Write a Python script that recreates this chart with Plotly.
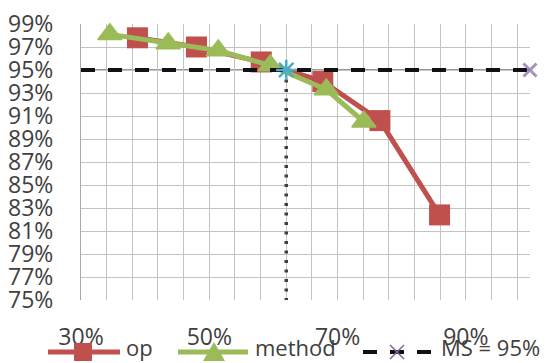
import plotly.graph_objects as go

# ---- data -------------------------------------------------------------
op_x = [0.388, 0.480, 0.581, 0.677, 0.766, 0.859]
op_y = [0.978, 0.970, 0.957, 0.940, 0.906, 0.824]

method_x = [0.345, 0.436, 0.514, 0.595, 0.6825, 0.741]
method_y = [0.981, 0.973, 0.967, 0.954, 0.933, 0.905]

ms_x = [0.30, 1.00]
ms_y = [0.95, 0.95]

cross_x = [0.62]
cross_y = [0.95]

drop_x = [0.62, 0.62]
drop_y = [0.95, 0.75]

x_tick_vals = [round(0.30 + 0.04 * i, 2) for i in range(18)]
x_tick_text = ["30%" if i == 0 else "50%" if i == 5 else "70%" if i == 10
               else "90%" if i == 15 else "" for i in range(18)]
y_tick_vals = [round(0.75 + 0.02 * i, 2) for i in range(13)]
y_tick_text = [f"{round(v * 100)}%" for v in y_tick_vals]

# ---- style ------------------------------------------------------------
RED = "#C0504D"
GREEN = "#9BBB59"
PURPLE = "#8064A2"
BLUE = "#4BACC6"
INK = "#404040"
GRID = "#C3C3C3"
FONT = "Open Sans"
FSIZE = 23
LEG_FSIZE = 22

W, H = 547, 363
ML, MR, MT, MB = 81, 17, 24, 63
PW, PH = W - ML - MR, H - MT - MB


def px(xp):
    return (xp - ML) / PW


def py(yp):
    return (H - MB - yp) / PH


fig = go.Figure()

fig.add_trace(go.Scatter(
    x=op_x, y=op_y, mode="lines+markers", name="op",
    line=dict(color=RED, width=5),
    marker=dict(symbol="square", size=21, color=RED),
    cliponaxis=False, showlegend=False))

fig.add_trace(go.Scatter(
    x=method_x, y=method_y, mode="lines+markers", name="method",
    line=dict(color=GREEN, width=5),
    marker=dict(symbol="triangle-up", size=21, color=GREEN,
                line=dict(color=GREEN, width=1.5)),
    cliponaxis=False, showlegend=False))

fig.add_trace(go.Scatter(
    x=ms_x, y=ms_y, mode="lines+markers", name="MS = 95%",
    line=dict(color="#111111", width=4, dash="14px,13px"),
    marker=dict(symbol="x-thin-open", size=[0, 13], color=PURPLE,
                line=dict(color=PURPLE, width=3)),
    cliponaxis=False, showlegend=False))

fig.add_trace(go.Scatter(
    x=drop_x, y=drop_y, mode="lines",
    line=dict(color=INK, width=3.5, dash="3px,6.5px"),
    cliponaxis=False, showlegend=False))

fig.add_trace(go.Scatter(
    x=cross_x, y=cross_y, mode="markers",
    marker=dict(symbol="asterisk-open", size=17, color=BLUE,
                line=dict(color=BLUE, width=2.5)),
    cliponaxis=False, showlegend=False))

shapes = []
# horizontal axis line crossing at 95%
shapes.append(dict(type="line", xref="paper", yref="y", x0=0, x1=1,
                   y0=0.95, y1=0.95, line=dict(color="#333333", width=1),
                   layer="below"))

# ---- legend keys --------------------------------------------------------
LEG_Y = 352
shapes.append(dict(type="line", xref="paper", yref="paper",
                   x0=px(48), x1=px(120), y0=py(LEG_Y), y1=py(LEG_Y),
                   line=dict(color=RED, width=5)))
shapes.append(dict(type="rect", xref="paper", yref="paper",
                   xsizemode="pixel", ysizemode="pixel",
                   xanchor=px(83), yanchor=py(LEG_Y),
                   x0=-9, x1=9, y0=-9, y1=9,
                   fillcolor=RED, line=dict(width=0)))
shapes.append(dict(type="line", xref="paper", yref="paper",
                   x0=px(178), x1=px(248), y0=py(LEG_Y), y1=py(LEG_Y),
                   line=dict(color=GREEN, width=5)))
shapes.append(dict(type="path", xref="paper", yref="paper",
                   xsizemode="pixel", ysizemode="pixel",
                   xanchor=px(214), yanchor=py(LEG_Y),
                   path="M-11,-9 L11,-9 L0,10 Z",
                   fillcolor=GREEN, line=dict(width=0)))
for x0 in (363, 417):
    shapes.append(dict(type="line", xref="paper", yref="paper",
                       x0=px(x0), x1=px(x0 + 14), y0=py(LEG_Y), y1=py(LEG_Y),
                       line=dict(color="#111111", width=4)))
shapes.append(dict(type="line", xref="paper", yref="paper",
                   x0=px(390), x1=px(404), y0=py(LEG_Y), y1=py(LEG_Y),
                   line=dict(color="#111111", width=4)))
shapes.append(dict(type="path", xref="paper", yref="paper",
                   xsizemode="pixel", ysizemode="pixel",
                   xanchor=px(397), yanchor=py(LEG_Y),
                   path="M-7,-7 L7,7 M-7,7 L7,-7",
                   line=dict(color=PURPLE, width=1.5)))

annotations = []
for label, xl in (("op", 125), ("method", 254), ("MS = 95%", 440)):
    annotations.append(dict(text=label, xref="paper", yref="paper",
                            x=px(xl), y=py(H), xanchor="left",
                            yanchor="bottom", showarrow=False, borderpad=0,
                            font=dict(family=FONT, size=LEG_FSIZE, color=INK)))

fig.update_layout(
    width=W, height=H,
    margin=dict(l=ML, r=MR, t=MT, b=MB, autoexpand=False),
    paper_bgcolor="white", plot_bgcolor="white",
    font=dict(family=FONT, size=FSIZE, color=INK),
    shapes=shapes, annotations=annotations,
    xaxis=dict(range=[0.30, 1.00], tickvals=x_tick_vals, ticktext=x_tick_text,
               showgrid=True, gridcolor=GRID, gridwidth=1,
               zeroline=False, showline=False, ticks="",
               ticklabelstandoff=21, automargin=False,
               tickfont=dict(family=FONT, size=FSIZE, color=INK)),
    yaxis=dict(range=[0.75, 0.99], tickvals=y_tick_vals, ticktext=y_tick_text,
               showgrid=True, gridcolor=GRID, gridwidth=1,
               zeroline=False, showline=True, linecolor="#A8A8A8",
               linewidth=1, ticks="", ticklabelstandoff=22, automargin=False,
               tickfont=dict(family=FONT, size=FSIZE, color=INK)),
)

fig.write_html("out.html")
